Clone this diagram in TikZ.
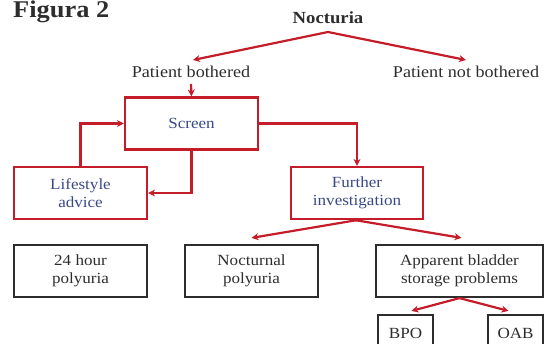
\documentclass[tikz,border=0pt]{standalone}
\usepackage{fontspec}
\setmainfont{Liberation Serif}[FakeStretch=1.1]
\usetikzlibrary{arrows.meta}
\definecolor{redline}{RGB}{196,28,40}
\definecolor{bluetxt}{RGB}{58,72,135}
\definecolor{graytxt}{RGB}{45,45,45}
\tikzset{
  redbox/.style={draw=redline, line width=2.2pt, minimum width=133pt, minimum height=52pt, align=center, text=bluetxt, font=\fontsize{15.5}{18}\selectfont},
  blkbox/.style={draw=graytxt, line width=2.2pt, minimum height=52pt, align=center, text=graytxt, font=\fontsize{15.5}{18}\selectfont},
  lbl/.style={text=graytxt, font=\fontsize{16.5}{18}\selectfont, inner sep=6pt},
  arr/.style={draw=redline, line width=2.2pt, -{Stealth[length=7pt,width=7pt]}}
}
\begin{document}
\begin{tikzpicture}[x=1pt,y=-1pt]
\useasboundingbox (0,0) rectangle (551,343);
\clip (0,0) rectangle (551,343);
\node[anchor=base west, inner sep=0, text=graytxt, font=\fontsize{24}{26}\selectfont\bfseries] (fig) at (13,17.5) {Figura 2};
\node[text=graytxt, font=\fontsize{17}{19}\selectfont\bfseries, inner sep=0] (noct) at (328,18) {Nocturia};
\coordinate (apex) at (328,32);
\node[lbl] (pb) at (191,72) {Patient bothered};
\node[lbl] (pnb) at (466,72) {Patient not bothered};
\node[redbox] (screen) at (191.5,123.5) {Screen};
\node[redbox] (life) at (80.5,193) {Lifestyle\\advice};
\node[redbox, minimum width=132pt] (fur) at (357,193) {Further\\investigation};
\node[blkbox, minimum width=133pt] (h24) at (80.5,271) {24 hour\\polyuria};
\node[blkbox, minimum width=133pt] (noc) at (251.5,271) {Nocturnal\\polyuria};
\node[blkbox, minimum width=167pt] (app) at (459.5,271) {Apparent bladder\\storage problems};
\node[blkbox, minimum width=55pt, minimum height=36pt] (bpo) at (405.5,333) {BPO};
\node[blkbox, minimum width=55pt, minimum height=36pt] (oab) at (515.5,333) {OAB};
\draw[arr] (apex) -- ([xshift=2pt]pb.north);
\draw[arr] (apex) -- (pnb.north);
\draw[arr] (pb.south) -- (screen.north);
\draw[arr] (screen.east) -| (fur.north);
\draw[arr] (screen.south) |- (life.east);
\draw[arr] (life.north) |- (screen.west);
\draw[arr] (fur.south) -- ([yshift=6pt]noc.north);
\draw[arr] ([xshift=-2pt]fur.south) -- ([xshift=2pt,yshift=6pt]app.north);
\draw[arr] (app.south) -- ([xshift=6pt,yshift=3pt]bpo.north);
\draw[arr] (app.south) -- ([xshift=-7pt,yshift=3pt]oab.north);
\end{tikzpicture}
\end{document}
